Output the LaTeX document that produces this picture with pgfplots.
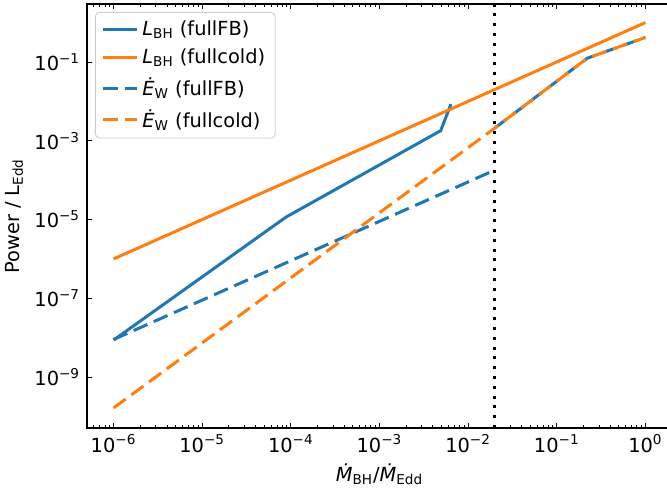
\documentclass[border=0pt]{standalone}
\usepackage{fontspec}
\setmainfont{DejaVu Sans}
\usepackage{pgfplots}
\pgfplotsset{compat=1.18}
\definecolor{tabblue}{HTML}{1F77B4}
\definecolor{taborange}{HTML}{FF7F0E}
\newcommand{\tp}[1]{10\textsuperscript{#1}}

\begin{document}
\fontsize{9.7}{11.5}\selectfont
\begin{tikzpicture}
\begin{axis}[
  name=ax,
  scale only axis,
  width=292.5pt, height=212pt,
  xmode=log, ymode=log,
  xmin=5.01e-7, xmax=1.995,
  ymin=5.1e-11, ymax=2.96,
  xtick={1e-6,1e-5,1e-4,1e-3,1e-2,1e-1,1},
  xticklabels={\tp{−6},\tp{−5},\tp{−4},\tp{−3},\tp{−2},\tp{−1},\tp{0}},
  ytick={1e-9,1e-7,1e-5,1e-3,1e-1},
  yticklabels={\tp{−9},\tp{−7},\tp{−5},\tp{−3},\tp{−1}},
  minor xtick={6e-7,7e-7,8e-7,9e-7,
    2e-6,3e-6,4e-6,5e-6,6e-6,7e-6,8e-6,9e-6,
    2e-5,3e-5,4e-5,5e-5,6e-5,7e-5,8e-5,9e-5,
    2e-4,3e-4,4e-4,5e-4,6e-4,7e-4,8e-4,9e-4,
    2e-3,3e-3,4e-3,5e-3,6e-3,7e-3,8e-3,9e-3,
    2e-2,3e-2,4e-2,5e-2,6e-2,7e-2,8e-2,9e-2,
    0.2,0.3,0.4,0.5,0.6,0.7,0.8,0.9},
  tick align=inside,
  major tick length=2.4pt,
  minor tick length=1.4pt,
  every tick/.style={black, line width=0.45pt},
  axis line style={line width=0.55pt},
  xlabel={\textit{Ṁ}\textsubscript{BH}/\textit{Ṁ}\textsubscript{Edd}},
  ylabel={Power / L\textsubscript{Edd}},
  xlabel style={yshift=1pt},
  ylabel style={yshift=-1pt},
  unbounded coords=jump,
  legend cell align=left,
  legend style={at={(0,1)}, anchor=north west, xshift=4pt, yshift=-4pt,
    draw=black!20, rounded corners=2pt, fill=white, row sep=1.5pt,
    inner xsep=3pt, inner ysep=2pt},
  legend image code/.code={\draw[#1] (0pt,0pt) -- (17pt,0pt);},
]
\addplot[tabblue, line width=1.5pt] coordinates {
  (1e-6,8.7e-9) (8.8e-5,1.15e-5) (4.9e-3,1.8e-3) (6.4e-3,8.5e-3)};
\addlegendentry{\textit{L}\textsubscript{BH} (fullFB)}
\addplot[taborange, line width=1.5pt] coordinates {
  (1e-6,1e-6) (1e-4,1e-4) (5e-3,5e-3) (0.02,0.02) (0.2,0.2) (1,1)};
\addlegendentry{\textit{L}\textsubscript{BH} (fullcold)}
\addplot[tabblue, line width=1.5pt, dash pattern=on 7.5pt off 3.5pt] coordinates {
  (1e-6,9e-9) (0.02,1.8e-4) (0.021,nan) (0.02,2.1e-3) (0.22,0.124) (1,0.42)};
\addlegendentry{\textit{Ė}\textsubscript{W} (fullFB)}
\addplot[taborange, line width=1.5pt, dash pattern=on 7.5pt off 3.5pt] coordinates {
  (1e-6,1.65e-10) (0.02,2.1e-3) (0.22,0.124) (1,0.42)};
\addlegendentry{\textit{Ė}\textsubscript{W} (fullcold)}
\addplot[black, line width=1.5pt, dash pattern=on 1.5pt off 3.4pt, forget plot] coordinates {
  (0.02,5.1e-11) (0.02,2.96)};
\end{axis}
\pgfresetboundingbox
\path ([shift={(-43.5pt,-31.5pt)}]ax.south west) rectangle ([shift={(-2.5pt,2pt)}]ax.north east);
\end{tikzpicture}
\end{document}
